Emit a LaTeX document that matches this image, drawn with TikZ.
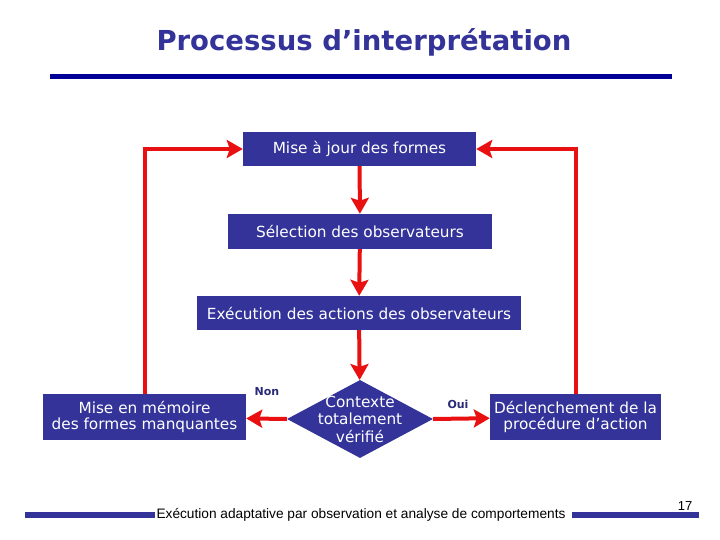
\documentclass[tikz,border=0pt]{standalone}
\usepackage{fontspec}
\setmainfont{DejaVu Sans}
\newfontfamily\footfont{Liberation Sans}
\usepackage{tikz}
\usetikzlibrary{arrows.meta,positioning,shapes.geometric}
\definecolor{boxblue}{RGB}{51,51,153}
\definecolor{lineblue}{RGB}{0,0,150}
\definecolor{flowred}{RGB}{232,16,16}

\begin{document}
\begin{tikzpicture}[x=1pt,y=-1pt,
	bloc/.style={fill=boxblue,text=white,font=\fontsize{15.3}{16.5}\selectfont,align=center,inner sep=0pt},
	test/.style={diamond,fill=boxblue,inner sep=0pt,minimum width=146pt,minimum height=78pt},
	fleche/.style={flowred,line width=4pt,-{Stealth[length=16pt,width=18pt,inset=3pt]}},
	rep/.style={text=boxblue!80!black,font=\fontsize{11}{13}\selectfont\bfseries,inner sep=0pt}]
	\useasboundingbox (0,0) rectangle (720,540);
	% titre
	\node[text=boxblue,font=\fontsize{27.5}{32}\selectfont\bfseries] (titre) at (364,42) {Processus d’interprétation};
	\draw[lineblue,line width=5pt] (50,76.5) -- (672,76.5);
	% etapes
	\node[bloc,minimum width=233pt,minimum height=34pt] (maj) at (359.5,149) {Mise à jour des formes};
	\node[bloc,minimum width=264pt,minimum height=35pt] (sel) at (360,231.5) {Sélection des observateurs};
	\node[bloc,minimum width=324pt,minimum height=34pt] (exe) at (359,313) {Exécution des actions des observateurs};
	\node[test] (ctx) at (360,419) {};
	\node[text=white,font=\fontsize{15.3}{17.5}\selectfont,align=center,inner sep=0pt] (ctxtxt) at (ctx) {Contexte\\totalement\\vérifié};
	\node[bloc,minimum width=203pt,minimum height=46pt] (mem) at (144.5,417) {Mise en mémoire\\des formes manquantes};
	\node[bloc,minimum width=171pt,minimum height=46pt] (dec) at (575.5,417) {Déclenchement de la\\procédure d’action};
	% liens
	\draw[fleche] (maj) -- (sel);
	\draw[fleche] (sel) -- (exe);
	\draw[fleche] (exe) -- (ctx);
	\draw[fleche] (ctx.west) -- (mem);
	\draw[fleche] (ctx.east) -- (dec);
	\node[rep] (non) at (267,392) {Non};
	\node[rep] (oui) at (458,404) {Oui};
	\draw[fleche] (mem.north) |- (maj.west);
	\draw[fleche] (dec.north) |- (maj.east);
	% pied de page
	\node[font=\footfont\fontsize{13.7}{16}\selectfont,inner sep=0pt] (pied) at (361,515) {Exécution adaptative par observation et analyse de comportements};
	\draw[boxblue,line width=6pt] (25,515) -- (155,515) (572,515) -- (699,515);
	\node[font=\footfont\fontsize{13}{15}\selectfont,inner sep=0pt] (num) at (685,506) {17};
\end{tikzpicture}
\end{document}
